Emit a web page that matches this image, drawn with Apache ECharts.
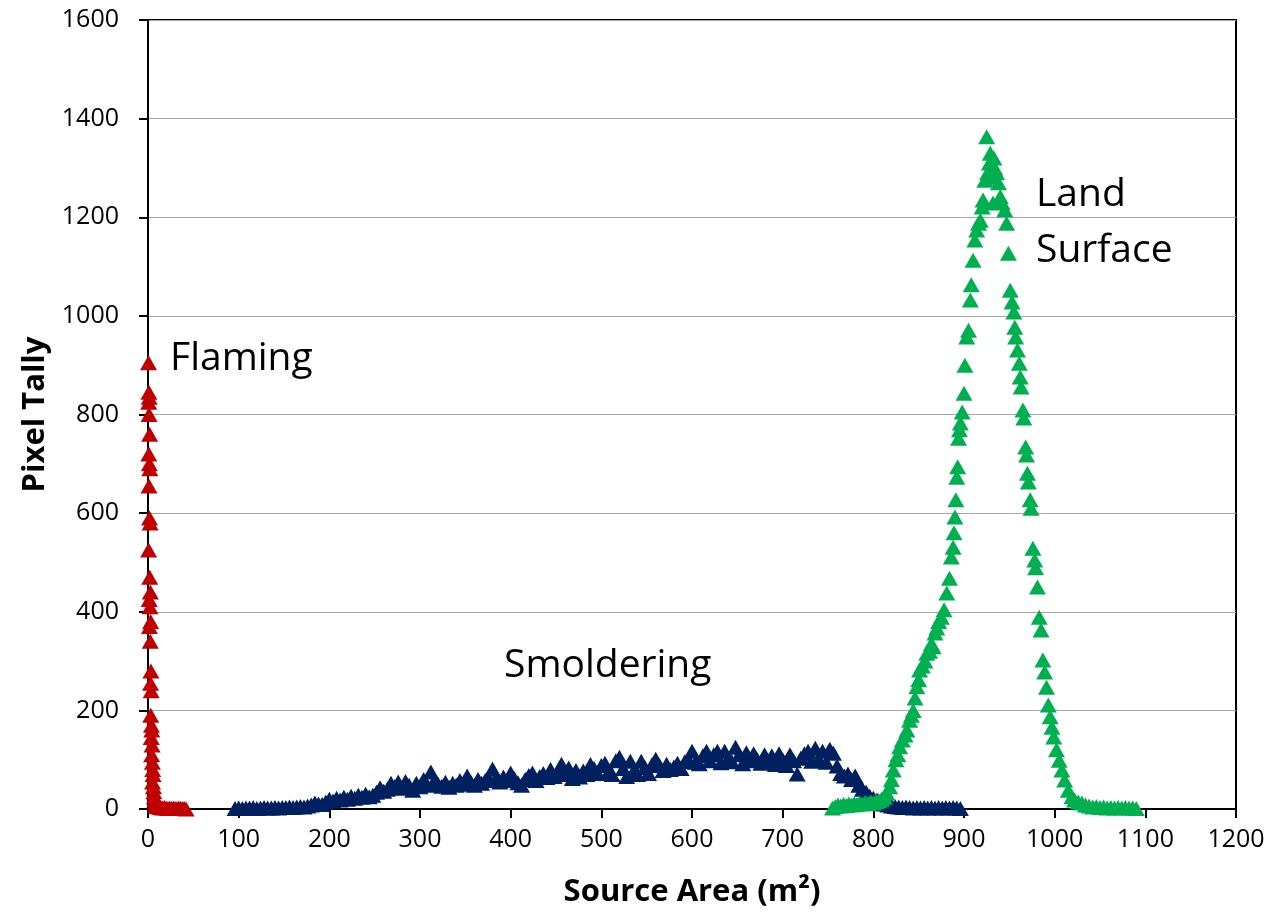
<!DOCTYPE html>
<html>
<head>
<meta charset="utf-8">
<script src="https://cdn.jsdelivr.net/npm/echarts@6/dist/echarts.min.js"></script>
<style>html,body{margin:0;padding:0;background:#fff}#c{width:1272px;height:916px}</style>
</head>
<body>
<div id="c"></div>
<script>
const flamingX = [0.6,1.0,1.4,0.8,1.2,1.8,0.9,1.5,2.0,1.1,1.7,2.3,0.7,1.9,2.6,1.3,2.2,2.9,1.6,2.5,3.2,2.8,3.5,3.0,3.8,4.2,3.6,4.5,4.0,4.8,5.2,5.6,5.0,6.0,6.4,7.0,7.6,8.2,9.0,10.0,12,14,16,18,20,22,24,26,28,30,32,34,36,38,40,42];
const flamingY = [905,845,835,825,800,760,720,700,690,655,590,580,525,470,440,425,410,380,370,340,280,255,240,190,170,160,145,130,110,95,80,70,55,45,35,25,18,12,8,5,4,3,2,3,2,1,2,1,2,1,1,2,1,1,1,0];

const smolderingX = [96,100,104,108,112,116,120,124,128,132,136,140,144,148,152,156,160,164,168,172,176,180,184,188,192,196,
200,204,208,212,216,220,224,228,232,236,240,244,248,252,256,260,
264,268,272,276,280,284,288,292,296,300,
304,308,312,316,320,324,328,332,336,340,
344,348,352,356,360,364,368,372,376,380,384,388,392,396,400,
404,408,412,416,420,424,428,432,436,440,444,448,452,456,460,
464,468,472,476,480,484,488,492,496,500,
504,508,512,516,520,524,528,532,536,540,544,548,
552,556,560,564,568,572,576,580,584,588,592,596,600,
604,608,612,616,620,624,628,632,636,640,644,648,652,656,660,
664,668,672,676,680,684,688,692,696,700,
704,708,712,716,720,724,728,732,736,740,744,748,752,756,760,
764,768,772,776,780,784,788,792,796,800,804,808,812,816,820,
824,828,832,836,840,844,848,852,856,860,864,868,872,876,880,884,888,892,896];
const smolderingY = [1,2,1,2,2,3,1,2,3,2,2,3,2,3,3,4,3,4,5,4,6,8,12,10,9,14,
20,16,22,18,24,20,26,22,28,24,30,25,28,34,43,36,
40,52,45,55,42,56,48,38,52,45,
60,48,75,58,50,46,54,44,52,48,
58,50,67,55,48,60,52,58,63,81,62,55,65,58,73,
62,53,48,60,68,73,58,66,72,64,80,66,75,91,70,
83,62,78,65,77,70,90,82,72,88,
93,75,70,98,105,82,66,97,78,70,97,84,
72,90,101,88,78,91,80,85,93,82,96,100,117,
95,92,108,117,98,110,117,94,117,102,96,125,110,92,114,
98,112,100,93,110,96,108,90,112,100,
88,110,98,71,103,112,117,97,123,100,117,95,121,113,87,
72,67,71,60,67,48,40,34,26,22,18,14,10,8,6,
5,4,3,4,3,2,3,2,3,2,3,2,3,2,3,2,3,2,1];

const landX = [755,758,761,764,767,770,773,776,779,782,785,788,791,794,797,800,803,806,809,812,815,818,820,822,825,827,829,832,835,837,840,842,844,846,848,850,851,854,857,859,862,864,866,868,870,872,875,878,881,884,886,888,889,890,891,892,893,894,895,896,898,900,901,903,905,907,908,910,912,914,916,918,920,921,923,925,926,928,929,930,931,932,933,934,936,938,940,942,945,947,949,951,953,955,956,957,959,961,962,963,965,966,968,969,970,971,973,974,976,978,979,981,983,985,987,989,991,993,995,997,999,1002,1005,1008,1011,1015,1019,1022,1026,1030,1034,1038,1042,1046,1050,1054,1058,1062,1066,1070,1074,1078,1082,1086,1090];
const landY = [2,5,8,6,9,7,10,8,11,9,12,10,13,11,14,12,15,17,20,24,32,45,60,79,100,110,126,140,150,160,180,190,200,225,248,262,282,290,300,316,320,335,329,357,367,380,389,404,438,468,511,531,560,592,627,673,694,752,769,783,805,843,900,957,971,1032,1063,1113,1154,1174,1188,1194,1221,1235,1275,1363,1290,1310,1330,1300,1280,1229,1320,1300,1290,1270,1242,1230,1215,1188,1127,1052,1028,1008,977,957,931,904,876,856,809,793,734,718,681,663,627,610,529,505,489,450,389,363,302,278,247,211,187,166,146,120,99,79,59,38,25,18,14,12,8,6,4,5,3,4,2,3,2,3,2,3,2,2,1];

const xTicks = {min: 0, max: 1200, interval: 100};
const yTicks = {min: 0, max: 1600, interval: 200};

function pairs(xs, ys) { return xs.map((x, i) => [x, ys[i]]); }

const chart = echarts.init(document.getElementById('c'), null, {renderer: 'canvas'});
const FONT = 'Open Sans';
const mk = (name, xs, ys, color) => ({
  name, type: 'scatter', data: pairs(xs, ys),
  symbol: 'triangle', symbolSize: [17, 15],
  itemStyle: {color, opacity: 1},
  animation: false
});
chart.setOption({
  backgroundColor: '#fff',
  animation: false,
  grid: {left: 148, right: 36, top: 20, bottom: 107, show: true, borderColor: '#000', borderWidth: 2, backgroundColor: 'transparent'},
  xAxis: {
    type: 'value', min: xTicks.min, max: xTicks.max, interval: xTicks.interval,
    name: 'Source Area (m²)', nameLocation: 'middle', nameGap: 68,
    nameTextStyle: {fontFamily: FONT, fontWeight: 'bold', fontSize: 31, color: '#000'},
    axisLine: {show: true, onZero: false, lineStyle: {color: '#000', width: 2}},
    axisTick: {show: true, inside: false, length: 9, lineStyle: {color: '#000', width: 2}},
    axisLabel: {fontFamily: FONT, fontSize: 25, color: '#000', margin: 18, formatter: v => String(v)},
    splitLine: {show: false}
  },
  yAxis: {
    type: 'value', min: yTicks.min, max: yTicks.max, interval: yTicks.interval,
    name: 'Pixel Tally', nameLocation: 'middle', nameGap: 97, nameRotate: 90,
    nameTextStyle: {fontFamily: FONT, fontWeight: 'bold', fontSize: 31, color: '#000'},
    axisLine: {show: true, lineStyle: {color: '#000', width: 2}},
    axisTick: {show: true, inside: false, length: 9, lineStyle: {color: '#000', width: 2}},
    axisLabel: {fontFamily: FONT, fontSize: 25, color: '#000', margin: 29, formatter: v => String(v)},
    splitLine: {show: true, lineStyle: {color: '#A6A6A6', width: 1}}
  },
  series: [
    mk('Flaming', flamingX, flamingY, '#C00000'),
    mk('Smoldering', smolderingX, smolderingY, '#002060'),
    mk('Land Surface', landX, landY, '#00B050')
  ],
  graphic: [
    {type: 'text', left: 170, top: 339, style: {text: 'Flaming', font: '39px "Open Sans"', fill: '#000'}},
    {type: 'text', left: 504, top: 646, style: {text: 'Smoldering', font: '39px "Open Sans"', fill: '#000'}},
    {type: 'text', left: 1036, top: 167, style: {text: 'Land\nSurface', font: '39px "Open Sans"', fill: '#000', lineHeight: 56}}
  ]
});
</script>
</body>
</html>
